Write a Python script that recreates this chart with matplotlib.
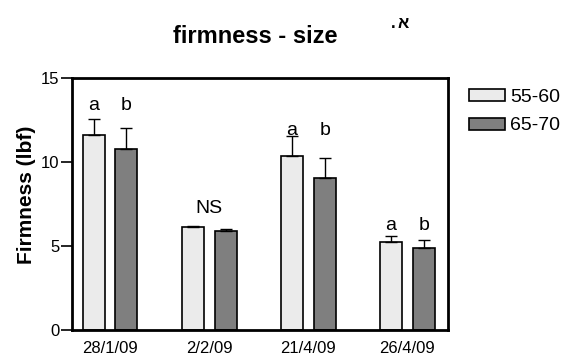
import numpy as np
import matplotlib
matplotlib.use("Agg")
from matplotlib import pyplot as plt

plt.rcParams['font.family'] = ['Liberation Sans', 'DejaVu Sans']

# data
dates = ['28/1/09', '2/2/09', '21/4/09', '26/4/09']
sizes = ['55-60', '65-70']
firm_small = [11.65, 6.13, 10.36, 5.22]
err_small = [0.95, 0.07, 1.2, 0.4]
firm_large = [10.76, 5.89, 9.08, 4.88]
err_large = [1.29, 0.11, 1.18, 0.48]
letters_small = ['a', '', 'a', 'a']
letters_large = ['b', '', 'b', 'b']
letter_y = [13.1, 0, 11.6, 5.96]
ns_label = 'NS'
ns_y = 6.97

x = np.arange(len(dates))
w = 0.222
off = 0.166

fig = plt.figure(figsize=(5.71, 3.58), dpi=100)
ax = fig.add_axes([0.1256, 0.0782, 0.659, 0.703])

ax.bar(x - off, firm_small, w, color='#ebebeb', edgecolor='black', linewidth=1.2,
       yerr=[np.zeros(4), err_small], error_kw=dict(capsize=4, elinewidth=1, capthick=1),
       label=sizes[0], zorder=2)
ax.bar(x + off, firm_large, w, color='#7f7f7f', edgecolor='black', linewidth=1.2,
       yerr=[np.zeros(4), err_large], error_kw=dict(capsize=4, elinewidth=1, capthick=1),
       label=sizes[1], zorder=2)

for i in range(len(dates)):
    if letters_small[i]:
        ax.text(x[i] - off, letter_y[i], letters_small[i], ha='center', va='baseline', fontsize=14)
        ax.text(x[i] + off, letter_y[i], letters_large[i], ha='center', va='baseline', fontsize=14)
ax.text(x[1], ns_y, ns_label, ha='center', va='baseline', fontsize=14)

ax.set_xlim(-0.386, 3.41)
ax.set_ylim(0, 15)
ax.set_yticks([0, 5, 10, 15])
ax.set_xticks(x)
ax.set_xticklabels(dates, fontsize=12)
ax.tick_params(axis='x', length=0, pad=8)
ax.tick_params(axis='y', length=8, width=1.2, labelsize=12, pad=1)
for s in ax.spines.values():
    s.set_linewidth(2)
ax.set_ylabel('Firmness (lbf)', fontsize=15, fontweight='bold')
ax.yaxis.set_label_coords(-0.094, 0.536)

fig.text(0.447, 0.88, 'firmness - size', ha='center', va='baseline', fontsize=17, fontweight='bold')
# hebrew section mark: dot on the left, aleph on the right
fig.text(0.689, 0.922, '.', ha='center', va='baseline', fontsize=12, fontweight='bold')
fig.text(0.706, 0.923, '\u05d0', ha='center', va='baseline', fontsize=12, fontweight='bold')

ax.legend(loc='upper left', bbox_to_anchor=(0.822, 0.752), bbox_transform=fig.transFigure,
          frameon=False, fontsize=14, handlelength=1.85, handleheight=0.57,
          handletextpad=0.26, labelspacing=0.6, borderaxespad=0, borderpad=0)

fig.savefig('out.png', dpi=100)
